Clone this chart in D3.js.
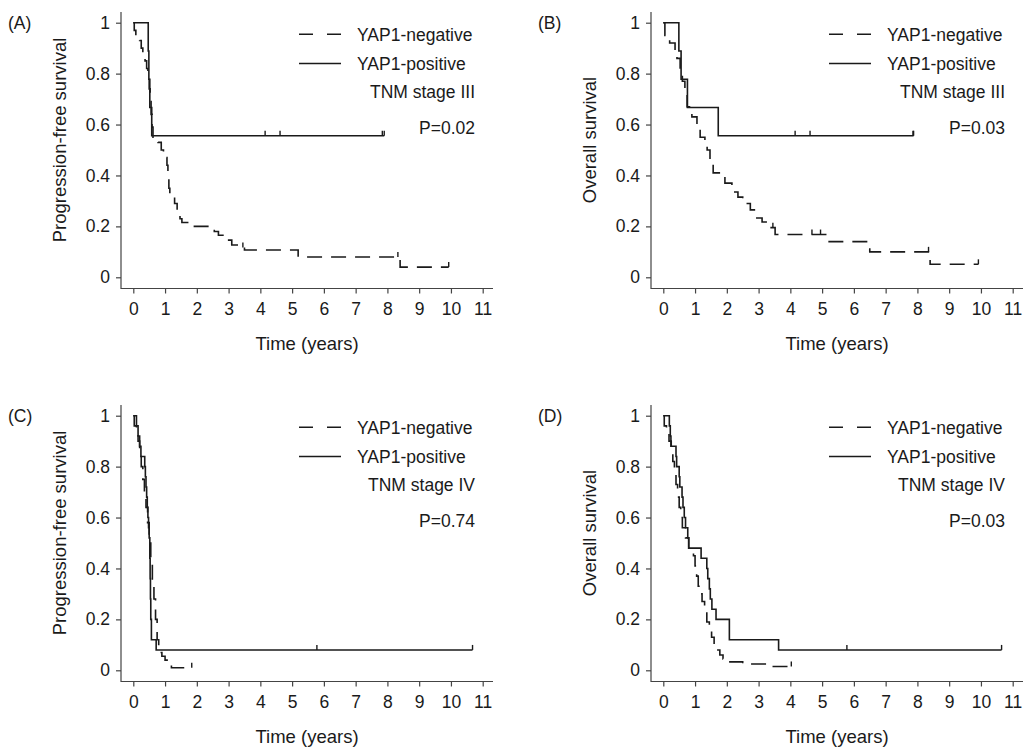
<!DOCTYPE html>
<html>
<head>
<meta charset="utf-8">
<script src="https://cdn.jsdelivr.net/npm/d3@7"></script>
<style>
  body { margin: 0; background: #fff; }
  text { font-family: "Liberation Sans", Arial, sans-serif; fill: #1a1a1a; }
</style>
</head>
<body>
<script>
// Kaplan-Meier curves, YAP1 negative vs positive
var xTicks = [0, 1, 2, 3, 4, 5, 6, 7, 8, 9, 10, 11];
var yTicks = [0, 0.2, 0.4, 0.6, 0.8, 1];
var seriesNames = ["YAP1-negative", "YAP1-positive"];
var panelLetters = ["(A)", "(B)", "(C)", "(D)"];
var yTitles = ["Progression-free survival", "Overall survival", "Progression-free survival", "Overall survival"];
var stageLabels = ["TNM stage III", "TNM stage III", "TNM stage IV", "TNM stage IV"];
var pLabels = ["P=0.02", "P=0.03", "P=0.74", "P=0.03"];

// [time (years), survival after the step]
var aNeg = [[0,1],[0.03,0.97],[0.08,0.95],[0.2,0.93],[0.25,0.9],[0.3,0.88],[0.37,0.85],[0.42,0.82],[0.46,0.79],[0.5,0.74],[0.53,0.69],[0.56,0.64],[0.59,0.59],[0.62,0.55],[0.78,0.53],[0.88,0.5],[0.95,0.47],[1.06,0.44],[1.09,0.39],[1.12,0.35],[1.15,0.32],[1.3,0.29],[1.38,0.26],[1.47,0.23],[1.53,0.215],[1.8,0.2],[2.55,0.18],[2.68,0.165],[2.89,0.146],[3.1,0.127],[3.4,0.117],[3.5,0.107],[5.19,0.08],[8.4,0.04]];
var aNegEnd = 9.93;
var aNegCensor = [3.45, 8.33, 9.93];
var aPos = [[0,1],[0.47,0.889],[0.49,0.778],[0.52,0.667],[0.58,0.556]];
var aPosEnd = 7.9;
var aPosCensor = [4.15, 4.62, 7.84, 7.9];

var bNeg = [[0,1],[0.05,0.95],[0.2,0.92],[0.37,0.89],[0.43,0.86],[0.53,0.81],[0.6,0.77],[0.68,0.72],[0.75,0.67],[0.9,0.63],[1.06,0.6],[1.16,0.55],[1.31,0.53],[1.38,0.5],[1.47,0.45],[1.57,0.41],[1.79,0.4],[1.94,0.37],[2.16,0.335],[2.35,0.315],[2.5,0.29],[2.74,0.265],[2.9,0.233],[3.11,0.217],[3.3,0.195],[3.52,0.168],[5.15,0.14],[6.5,0.1],[8.4,0.051]];
var bNegEnd = 9.92;
var bNegCensor = [3.45, 4.68, 4.95, 8.35, 9.92];
var bPos = [[0,1],[0.49,0.889],[0.56,0.778],[0.76,0.667],[1.73,0.556]];
var bPosEnd = 7.88;
var bPosCensor = [4.15, 4.62, 7.86, 7.88];

var cNeg = [[0,1],[0.03,0.96],[0.1,0.93],[0.15,0.9],[0.2,0.86],[0.25,0.8],[0.3,0.75],[0.35,0.7],[0.4,0.64],[0.45,0.58],[0.5,0.5],[0.55,0.42],[0.6,0.35],[0.65,0.28],[0.7,0.2],[0.75,0.12],[0.8,0.07],[0.9,0.055],[1.0,0.04],[1.1,0.025],[1.2,0.01]];
var cNegEnd = 1.84;
var cNegCensor = [1.84];
var cPos = [[0,1],[0.1,0.96],[0.15,0.92],[0.2,0.88],[0.24,0.84],[0.36,0.8],[0.38,0.76],[0.4,0.72],[0.42,0.68],[0.44,0.64],[0.46,0.6],[0.48,0.56],[0.5,0.52],[0.52,0.44],[0.53,0.36],[0.54,0.28],[0.55,0.2],[0.57,0.12],[0.72,0.08]];
var cPosEnd = 10.68;
var cPosCensor = [5.78, 10.68];

var dNeg = [[0,1],[0.03,0.96],[0.1,0.93],[0.18,0.9],[0.25,0.86],[0.3,0.82],[0.35,0.77],[0.4,0.73],[0.45,0.68],[0.5,0.64],[0.55,0.6],[0.6,0.56],[0.7,0.52],[0.8,0.48],[0.95,0.45],[1.0,0.41],[1.05,0.37],[1.1,0.33],[1.15,0.3],[1.22,0.27],[1.3,0.23],[1.37,0.19],[1.45,0.16],[1.52,0.13],[1.6,0.1],[1.68,0.08],[1.78,0.06],[1.88,0.045],[2.0,0.033],[2.5,0.025],[3.3,0.015]];
var dNegEnd = 4.03;
var dNegCensor = [4.03];
var dPos = [[0,1],[0.19,0.96],[0.22,0.92],[0.24,0.88],[0.4,0.84],[0.42,0.8],[0.5,0.76],[0.52,0.72],[0.59,0.68],[0.62,0.64],[0.66,0.6],[0.7,0.56],[0.77,0.52],[0.8,0.48],[1.19,0.44],[1.37,0.4],[1.4,0.36],[1.45,0.32],[1.48,0.28],[1.53,0.24],[1.66,0.2],[2.08,0.12],[3.63,0.08]];
var dPosEnd = 10.65;
var dPosCensor = [5.78, 10.65];

var panels = [
  {neg: aNeg, negEnd: aNegEnd, negCensor: aNegCensor, pos: aPos, posEnd: aPosEnd, posCensor: aPosCensor},
  {neg: bNeg, negEnd: bNegEnd, negCensor: bNegCensor, pos: bPos, posEnd: bPosEnd, posCensor: bPosCensor},
  {neg: cNeg, negEnd: cNegEnd, negCensor: cNegCensor, pos: cPos, posEnd: cPosEnd, posCensor: cPosCensor},
  {neg: dNeg, negEnd: dNegEnd, negCensor: dNegCensor, pos: dPos, posEnd: dPosEnd, posCensor: dPosCensor}
];
var offsets = [[0, 0], [530, 0], [0, 393], [530, 393]];

var svg = d3.select("body").append("svg")
  .attr("width", 1024)
  .attr("height", 750);

var ink = "#1a1a1a";
var fontSize = "17.5px";

function survAt(pts, t) {
  var s = pts[0][1];
  pts.forEach(function(p) { if (p[0] <= t) s = p[1]; });
  return s;
}

panels.forEach(function(p, i) {
  var g = svg.append("g")
    .attr("transform", `translate(${offsets[i][0]}, ${offsets[i][1]})`);

  var x = d3.scaleLinear().domain([0, 11]).range([133.3, 482.7]);
  var y = d3.scaleLinear().domain([0, 1]).range([277.3, 22.7]);

  // L-shaped frame
  g.append("path")
    .attr("d", "M121,12V288.5H493")
    .attr("fill", "none")
    .attr("stroke", "#444")
    .attr("stroke-width", 1.2);

  var bottomAxis = d3.axisBottom(x).tickValues(xTicks).tickSize(5).tickPadding(9).tickFormat(d3.format("d"));
  var leftAxis = d3.axisLeft(y).tickValues(yTicks).tickSize(5).tickPadding(6).tickFormat(d3.format("~g"));

  var xg = g.append("g").attr("transform", "translate(0, 288.5)").call(bottomAxis);
  var yg = g.append("g").attr("transform", "translate(121, 0)").call(leftAxis);
  [xg, yg].forEach(function(a) {
    a.select(".domain").remove();
    a.selectAll("line").attr("stroke", "#444").attr("stroke-width", 1.2);
    a.selectAll("text").style("font-size", fontSize).attr("fill", ink)
      .style("font-family", '"Liberation Sans", Arial, sans-serif');
  });

  // Axis titles
  g.append("text")
    .attr("x", 307)
    .attr("y", 350)
    .attr("text-anchor", "middle")
    .style("font-size", "18.5px")
    .text("Time (years)");

  g.append("text")
    .attr("transform", "translate(66, 140) rotate(-90)")
    .attr("text-anchor", "middle")
    .style("font-size", "18.5px")
    .text(yTitles[i]);

  g.append("text")
    .attr("x", 8)
    .attr("y", 29)
    .style("font-size", fontSize)
    .text(panelLetters[i]);

  // Curves
  var line = d3.line()
    .x(d => x(d[0]))
    .y(d => y(d[1]))
    .curve(d3.curveStepAfter);

  var curves = [
    {pts: p.neg, end: p.negEnd, censor: p.negCensor, dash: "15,9"},
    {pts: p.pos, end: p.posEnd, censor: p.posCensor, dash: null}
  ];

  curves.forEach(function(c) {
    var data = c.pts.concat([[c.end, c.pts[c.pts.length - 1][1]]]);
    g.append("path")
      .datum(data)
      .attr("d", line)
      .attr("fill", "none")
      .attr("stroke", ink)
      .attr("stroke-width", 1.6)
      .attr("stroke-dasharray", c.dash);

    g.selectAll(null)
      .data(c.censor)
      .enter()
      .append("line")
      .attr("x1", d => x(d))
      .attr("x2", d => x(d))
      .attr("y1", d => y(survAt(c.pts, d)))
      .attr("y2", d => y(survAt(c.pts, d)) - 5)
      .attr("stroke", ink)
      .attr("stroke-width", 1.4);
  });

  // Legend
  var legY = [34.3, 63.5];
  seriesNames.forEach(function(name, k) {
    g.append("line")
      .attr("x1", 299).attr("x2", 341)
      .attr("y1", legY[k]).attr("y2", legY[k])
      .attr("stroke", ink)
      .attr("stroke-width", 1.6)
      .attr("stroke-dasharray", k === 0 ? "14,14" : null);
    g.append("text")
      .attr("x", 357)
      .attr("y", legY[k] + 6.5)
      .style("font-size", fontSize)
      .text(name);
  });

  g.append("text")
    .attr("x", 475)
    .attr("y", 98)
    .attr("text-anchor", "end")
    .style("font-size", fontSize)
    .text(stageLabels[i]);

  g.append("text")
    .attr("x", 475)
    .attr("y", 134)
    .attr("text-anchor", "end")
    .style("font-size", fontSize)
    .text(pLabels[i]);
});
</script>
</body>
</html>
